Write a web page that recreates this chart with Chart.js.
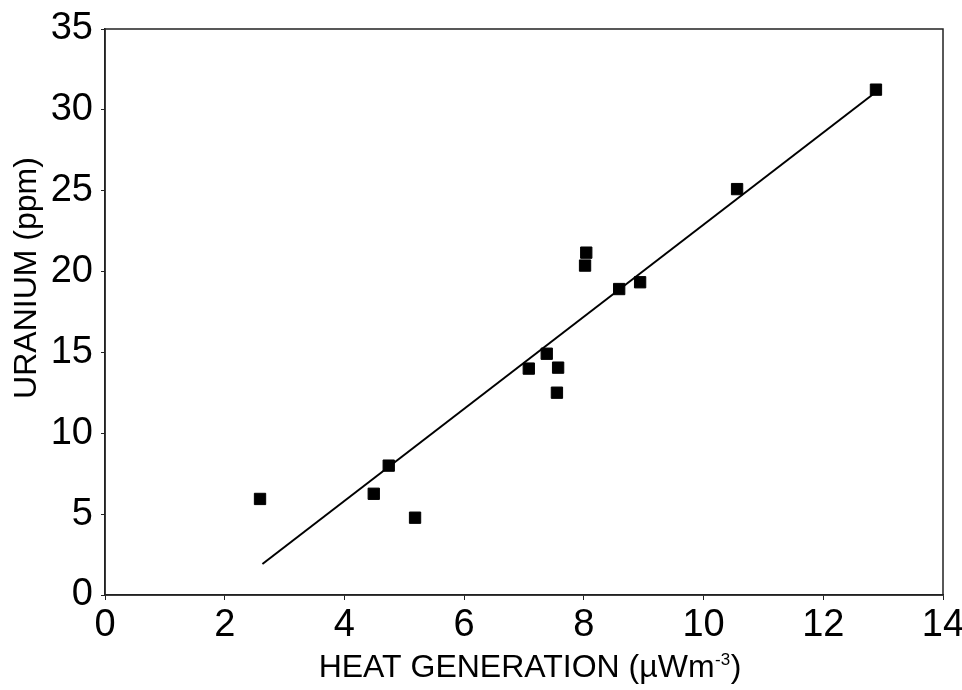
<!DOCTYPE html>
<html>
<head>
<meta charset="utf-8">
<script src="https://cdn.jsdelivr.net/npm/chart.js@4"></script>
<style>
  html, body { margin: 0; padding: 0; background: #fff; }
  #wrap { width: 962px; height: 690px; }
</style>
</head>
<body>
<div id="wrap"><canvas id="c"></canvas></div>
<script>
const heatGeneration = [2.59, 4.49, 4.74, 5.18, 7.08, 7.38, 7.57, 7.55, 8.02, 8.04, 8.59, 8.94, 10.56, 12.88];
const uranium        = [5.94, 6.26, 8.0, 4.78, 14.0, 14.92, 14.06, 12.51, 20.37, 21.17, 18.92, 19.34, 25.1, 31.25];
const fitX = [2.63, 12.88];
const fitY = [1.92, 31.1];
const xTicks = [0, 2, 4, 6, 8, 10, 12, 14];
const yTicks = [0, 5, 10, 15, 20, 25, 30, 35];
const xTitleMain = 'HEAT GENERATION (µWm';
const xTitleSup = '-3';
const xTitleEnd = ')';
const yTitle = 'URANIUM (ppm)';

const FONT = '"Liberation Sans", Arial, Helvetica, sans-serif';

const frameAndTitles = {
  id: 'frameAndTitles',
  afterDraw(chart) {
    const {ctx, chartArea: a} = chart;
    ctx.save();
    ctx.strokeStyle = '#222';
    ctx.lineWidth = 1.5;
    ctx.strokeRect(a.left, a.top, a.right - a.left, a.bottom - a.top);

    ctx.fillStyle = '#000';
    // x title with superscript
    const big = '32px ' + FONT, small = '17px ' + FONT;
    ctx.font = big;
    const w1 = ctx.measureText(xTitleMain).width;
    const w3 = ctx.measureText(xTitleEnd).width;
    ctx.font = small;
    const w2 = ctx.measureText(xTitleSup).width;
    const total = w1 + w2 + w3 + 1;
    let x = (a.left + a.right) / 2 + 6 - total / 2;
    const base = 677;
    ctx.textAlign = 'left';
    ctx.textBaseline = 'alphabetic';
    ctx.font = big;
    ctx.fillText(xTitleMain, x, base);
    x += w1 + 0.5;
    ctx.font = small;
    ctx.fillText(xTitleSup, x, base - 12);
    x += w2 + 0.5;
    ctx.font = big;
    ctx.fillText(xTitleEnd, x, base);

    // y title
    ctx.translate(36, 278);
    ctx.rotate(-Math.PI / 2);
    ctx.textAlign = 'center';
    ctx.font = big;
    ctx.fillText(yTitle, 0, 0);
    ctx.restore();
  }
};

new Chart(document.getElementById('c'), {
  data: {
    datasets: [
      {
        type: 'scatter',
        data: heatGeneration.map((x, i) => ({x, y: uranium[i]})),
        pointStyle: 'rect',
        pointRadius: 8,
        backgroundColor: '#000',
        borderColor: '#000',
        borderWidth: 1,
        order: 1
      },
      {
        type: 'line',
        data: fitX.map((x, i) => ({x, y: fitY[i]})),
        borderColor: '#000',
        borderWidth: 2,
        pointRadius: 0,
        fill: false,
        order: 2
      }
    ]
  },
  options: {
    responsive: true,
    maintainAspectRatio: false,
    animation: false,
    layout: { padding: { top: 29, right: 19, left: 0, bottom: 0 } },
    plugins: { legend: { display: false }, tooltip: { enabled: false } },
    scales: {
      x: {
        type: 'linear',
        min: 0, max: 14,
        afterBuildTicks: s => { s.ticks = xTicks.map(v => ({value: v})); },
        afterFit: s => { s.height = 95; s.paddingRight = 0; s.paddingLeft = 0; },
        grid: { display: true, drawOnChartArea: false, tickLength: 5, color: '#222', lineWidth: 1 },
        border: { display: true, color: '#222', width: 1.5 },
        ticks: { color: '#000', font: { family: FONT, size: 38 }, padding: 3, maxRotation: 0 },
        title: { display: false }
      },
      y: {
        type: 'linear',
        min: 0, max: 35,
        afterBuildTicks: s => { s.ticks = yTicks.map(v => ({value: v})); },
        afterFit: s => { s.width = 105; s.paddingTop = 0; s.paddingBottom = 0; },
        grid: { display: true, drawOnChartArea: false, tickLength: 4, color: '#222', lineWidth: 1 },
        border: { display: true, color: '#222', width: 1.5 },
        ticks: { color: '#000', font: { family: FONT, size: 38 }, padding: 8 },
        title: { display: false }
      }
    }
  },
  plugins: [frameAndTitles]
});
</script>
</body>
</html>
